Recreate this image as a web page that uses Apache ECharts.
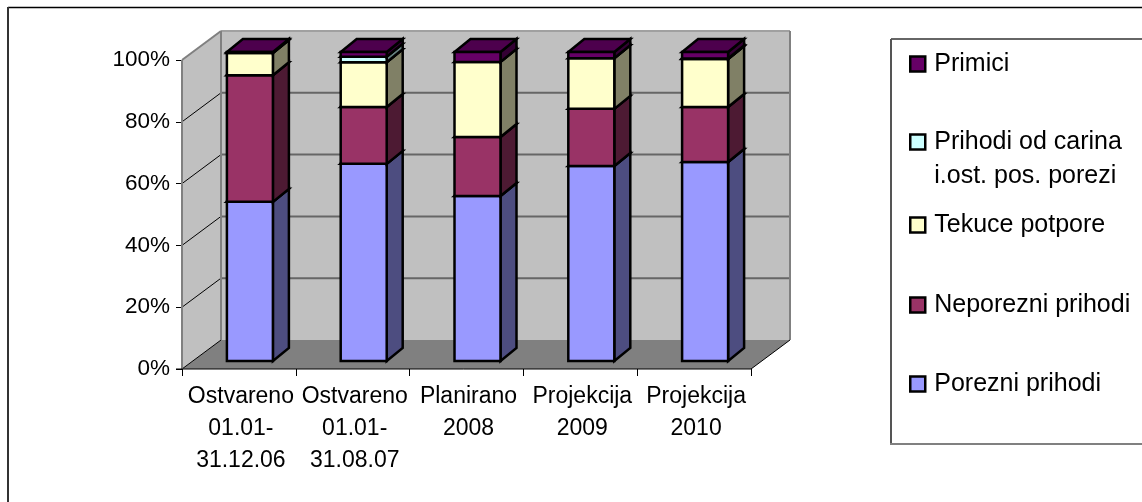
<!DOCTYPE html>
<html>
<head>
<meta charset="utf-8">
<style>
html, body { margin: 0; padding: 0; background: #fff; }
#main { width: 1142px; height: 502px; }
</style>
<script src="https://cdn.jsdelivr.net/npm/echarts@6/dist/echarts.min.js"></script>
</head>
<body>
<div id="main"></div>
<script>
var categories = ['Ostvareno\n01.01-\n31.12.06', 'Ostvareno\n01.01-\n31.08.07', 'Planirano\n2008', 'Projekcija\n2009', 'Projekcija\n2010'];
var yTicks = [0, 20, 40, 60, 80, 100];

// udjeli u %, odozdo prema gore
var porezni = [51.5, 63.8, 53.4, 63.1, 64.4];
var neporezni = [41.0, 18.4, 19.1, 18.5, 17.8];
var tekuce = [7.2, 14.5, 24.3, 16.4, 15.5];
var carine = [0, 1.8, 0, 0, 0.2];
var primici = [0.3, 1.5, 3.2, 2.0, 2.1];

var names = ['Porezni prihodi', 'Neporezni prihodi', 'Tekuce potpore', 'Prihodi od carina i.ost. pos. porezi', 'Primici'];
var layers = [porezni, neporezni, tekuce, carine, primici];
var faceColors = ['#9999FF', '#993366', '#FFFFCC', '#CCFFFF', '#660066'];
var sideColors = ['#4D4D80', '#4D1A33', '#808066', '#668080', '#330033'];
var topColors = ['#7373BF', '#73264D', '#BFBF99', '#99BFBF', '#4D004D'];
var legendCenters = [384, 305, 225, 142, 64];

var fontName = '"Liberation Sans", Arial, sans-serif';

// dubina 3D prikaza u pikselima
var wallDx = 39, wallDy = -29;
var barDx = 16, barDy = -13;
var barOffX = 11, barOffY = -8;
var barW = 46;

function poly(points, fill, stroke, width) {
    return {
        type: 'polygon',
        shape: { points: points },
        style: { fill: fill, stroke: stroke || null, lineWidth: width || 0, lineJoin: 'miter' }
    };
}

function line(x1, y1, x2, y2, color, width) {
    return {
        type: 'line',
        shape: { x1: x1, y1: y1, x2: x2, y2: y2 },
        style: { stroke: color, lineWidth: width }
    };
}

function renderWalls(params, api) {
    var band = api.size([1, 0])[0];
    var left = api.coord([0, 0])[0] - band / 2;
    var right = left + band * categories.length;
    var y0 = api.coord([0, 0])[1];
    var y100 = api.coord([0, 100])[1];
    var children = [
        poly([[left, y0], [left + wallDx, y0 + wallDy], [left + wallDx, y100 + wallDy], [left, y100]], '#C0C0C0'),
        poly([[left + wallDx, y0 + wallDy], [right + wallDx, y0 + wallDy], [right + wallDx, y100 + wallDy], [left + wallDx, y100 + wallDy]], '#C0C0C0'),
        poly([[left, y0], [right, y0], [right + wallDx, y0 + wallDy], [left + wallDx, y0 + wallDy]], '#808080')
    ];
    yTicks.forEach(function (t) {
        var y = api.coord([0, t])[1];
        if (t > 0 && t < 100) {
            children.push(line(left + wallDx, y + wallDy, right + wallDx, y + wallDy, '#666666', 2));
        }
        if (t < 100) {
            children.push(line(left, y, left + wallDx, y + wallDy, '#000', 1));
        }
    });
    children.push(line(left, y100, left + wallDx, y100 + wallDy, '#808080', 2));
    children.push(line(left + wallDx, y100 + wallDy, right + wallDx, y100 + wallDy, '#A0A0A0', 2));
    children.push(line(left + wallDx, y100 + wallDy, left + wallDx, y0 + wallDy, '#808080', 2));
    children.push(line(right + wallDx, y100 + wallDy, right + wallDx, y0 + wallDy, '#808080', 2));
    children.push(line(left, y0, left, y100, '#808080', 2));
    children.push(line(right, y0, right + wallDx, y0 + wallDy, '#000', 1));
    children.push(line(left - 6, y0, right, y0, '#000', 1));
    return { type: 'group', children: children };
}

function makeRenderer(li) {
    return function (params, api) {
        var i = api.value(0);
        var v = layers[li][i];
        if (!v) return null;
        var base = 0;
        for (var k = 0; k < li; k++) base += layers[k][i];
        var pb = api.coord([i, base]);
        var pt = api.coord([i, base + v]);
        var x1 = pb[0] + barOffX - barW / 2;
        var x2 = x1 + barW;
        var yb = pb[1] + barOffY;
        var yt = pt[1] + barOffY;
        return {
            type: 'group',
            children: [
                poly([[x2, yb], [x2 + barDx, yb + barDy], [x2 + barDx, yt + barDy], [x2, yt]], sideColors[li], '#000', 2.5),
                poly([[x1, yt], [x2, yt], [x2 + barDx, yt + barDy], [x1 + barDx, yt + barDy]], topColors[li], '#000', 2.5),
                poly([[x1, yb], [x2, yb], [x2, yt], [x1, yt]], faceColors[li], '#000', 2.5)
            ]
        };
    };
}

var series = [{
    name: 'walls',
    type: 'custom',
    silent: true,
    clip: false,
    z: 1,
    renderItem: renderWalls,
    data: [[0]]
}];

names.forEach(function (name, li) {
    series.push({
        name: name,
        type: 'custom',
        clip: false,
        z: 2 + li,
        itemStyle: { color: faceColors[li] },
        renderItem: makeRenderer(li),
        encode: { x: 0, y: 1 },
        data: categories.map(function (c, i) { return [i, layers[li][i]]; })
    });
});

// svaka stavka legende ima svoju poziciju kao u originalu
var legends = names.map(function (name, li) {
    var twoLines = li === 3;
    return {
        data: [name],
        left: 909,
        top: legendCenters[li] - (twoLines ? 51 : 17),
        padding: 0,
        icon: 'rect',
        itemWidth: 15,
        itemHeight: 15,
        selectedMode: false,
        itemStyle: { borderColor: '#000', borderWidth: 2.5 },
        formatter: function (n) {
            return twoLines ? '\nPrihodi od carina\ni.ost. pos. porezi' : n;
        },
        textStyle: { fontFamily: fontName, fontSize: 25, lineHeight: 34, color: '#000', padding: [0, 0, 0, 4] }
    };
});

var myChart = echarts.init(document.getElementById('main'), null, { renderer: 'canvas' });
myChart.setOption({
    animation: false,
    backgroundColor: '#fff',
    grid: { left: 182, top: 60, width: 569, height: 309 },
    xAxis: {
        type: 'category',
        data: categories,
        axisLine: { show: false },
        axisTick: { show: true, length: 7, lineStyle: { color: '#000', width: 1 } },
        axisLabel: { interval: 0, margin: 12, color: '#000', fontFamily: fontName, fontSize: 23, lineHeight: 32, padding: [0, 0, 0, 4] }
    },
    yAxis: {
        type: 'value',
        min: 0,
        max: 100,
        interval: 20,
        splitLine: { show: false },
        axisLine: { show: false },
        axisTick: { show: true, length: 6, lineStyle: { color: '#000', width: 1 } },
        axisLabel: { margin: 12, color: '#000', fontFamily: fontName, fontSize: 22.5, formatter: '{value}%' }
    },
    legend: legends,
    series: series,
    graphic: [
        { type: 'line', silent: true, shape: { x1: 8, y1: 7.5, x2: 1142, y2: 7.5 }, style: { stroke: '#000', lineWidth: 1.5 } },
        { type: 'line', silent: true, shape: { x1: 8, y1: 7, x2: 8, y2: 502 }, style: { stroke: '#333', lineWidth: 2 } },
        { type: 'line', silent: true, shape: { x1: 891, y1: 39, x2: 1142, y2: 39 }, style: { stroke: '#666', lineWidth: 2 } },
        { type: 'line', silent: true, shape: { x1: 891, y1: 39, x2: 891, y2: 444 }, style: { stroke: '#555', lineWidth: 2 } },
        { type: 'line', silent: true, shape: { x1: 890, y1: 444, x2: 1142, y2: 444 }, style: { stroke: '#808080', lineWidth: 2 } }
    ]
});
window.onresize = myChart.resize;
</script>
</body>
</html>
